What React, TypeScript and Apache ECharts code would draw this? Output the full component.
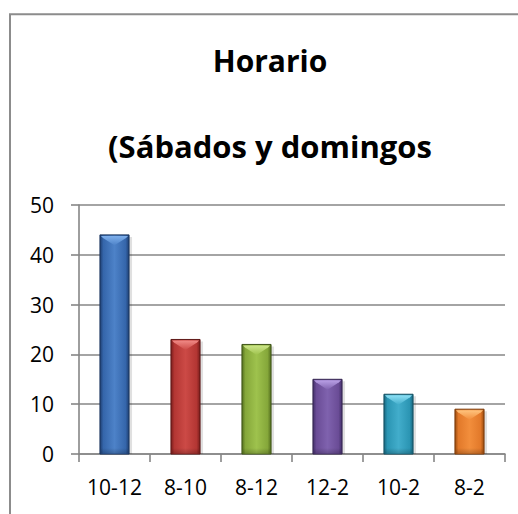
import React, { useEffect, useRef } from "react";
import * as echarts from "echarts";

const categories = ["10-12", "8-10", "8-12", "12-2", "10-2", "8-2"];
const values = [44, 23, 22, 15, 12, 9];
const yMin = 0;
const yMax = 50;
const yInterval = 10;
const titleLine1 = "Horario";
const titleLine2 = "(Sábados y domingos";

const palette = [
  { dark: "#1e3f73", base: "#3566ab", light: "#4d82c8", top: "#7fb0ec", edge: "#1b355e" },
  { dark: "#7a1d1c", base: "#b33633", light: "#cc4a46", top: "#f08a86", edge: "#5e1716" },
  { dark: "#55701f", base: "#85a73a", light: "#9ec24d", top: "#cde68a", edge: "#3f5418" },
  { dark: "#43306a", base: "#6a4c96", light: "#7f62ae", top: "#b9a0e6", edge: "#34254f" },
  { dark: "#19677f", base: "#2b95b3", light: "#42adcb", top: "#8ee0f5", edge: "#134f61" },
  { dark: "#9c4c0e", base: "#e2792a", light: "#f28e3c", top: "#ffc47e", edge: "#7a3a0a" },
];

const FONT = "'Open Sans', 'Liberation Sans', sans-serif";

export default function App() {
  const ref = useRef<HTMLDivElement>(null);
  useEffect(() => {
    if (!ref.current) return;
    const chart = echarts.init(ref.current, null, { renderer: "svg" });
    const option: any = {
      animation: false,
      backgroundColor: "#ffffff",
      title: [
        {
          text: titleLine1,
          left: 270,
          top: 41,
          textAlign: "center",
          padding: 0,
          textStyle: { fontFamily: FONT, fontWeight: "bold", fontSize: 30, color: "#000", lineHeight: 38 },
        },
        {
          text: titleLine2,
          left: 270,
          top: 127,
          textAlign: "center",
          padding: 0,
          textStyle: { fontFamily: FONT, fontWeight: "bold", fontSize: 31, color: "#000", lineHeight: 38 },
        },
      ],
      graphic: [
        {
          type: "rect",
          shape: { x: 10, y: 14.3, width: 700, height: 700 },
          style: { fill: "none", stroke: "#8c8c8c", lineWidth: 2 },
          silent: true,
          z: 100,
        },
      ],
      grid: { left: 79, right: 13, top: 205, bottom: 60, containLabel: false },
      xAxis: {
        type: "category",
        data: categories,
        boundaryGap: true,
        axisLine: { lineStyle: { color: "#868686", width: 1.6 } },
        axisTick: { show: true, interval: 0, length: 8, inside: false, alignWithLabel: false, lineStyle: { color: "#868686", width: 1.6 } },
        axisLabel: { interval: 0, hideOverlap: false, color: "#000", fontFamily: FONT, fontSize: 21, margin: 22 },
        splitLine: { show: false },
      },
      yAxis: {
        type: "value",
        min: yMin,
        max: yMax,
        interval: yInterval,
        axisLine: { show: true, lineStyle: { color: "#868686", width: 1.6 } },
        axisTick: { show: true, length: 8, inside: false, lineStyle: { color: "#868686", width: 1.6 } },
        axisLabel: { color: "#000", fontFamily: FONT, fontSize: 21, margin: 25 },
        splitLine: { show: true, lineStyle: { color: "#868686", width: 1.6 } },
      },
      series: [
        {
          type: "custom",
          encode: { x: 0, y: 1 },
          data: categories.map((c, i) => [i, values[i]]),
          renderItem: (params: any, api: any) => {
            const idx = api.value(0);
            const val = api.value(1);
            const topPt = api.coord([idx, val]);
            const basePt = api.coord([idx, 0]);
            const bw = api.size([1, 0])[0] * 0.41;
            const x = topPt[0] - bw / 2;
            const y = topPt[1];
            const h = basePt[1] - topPt[1];
            const c = palette[idx % palette.length];
            const bev = Math.min(bw * 0.36, h);
            const inset = 3;
            return {
              type: "group",
              children: [
                {
                  type: "rect",
                  shape: { x: x + 2, y: y + 2, width: bw + 1, height: h - 2 },
                  style: { fill: "rgba(0,0,0,0.12)" },
                },
                {
                  type: "rect",
                  shape: { x, y, width: bw, height: h },
                  style: {
                    fill: new echarts.graphic.LinearGradient(0, 0, 1, 0, [
                      { offset: 0, color: c.dark },
                      { offset: 0.12, color: c.base },
                      { offset: 0.5, color: c.light },
                      { offset: 0.88, color: c.base },
                      { offset: 1, color: c.dark },
                    ]),
                    stroke: c.edge,
                    lineWidth: 1,
                  },
                },
                {
                  type: "rect",
                  shape: { x: x + 1, y: basePt[1] - 6, width: bw - 2, height: 5 },
                  style: {
                    fill: new echarts.graphic.LinearGradient(0, 0, 0, 1, [
                      { offset: 0, color: "rgba(0,0,0,0)" },
                      { offset: 1, color: "rgba(0,0,0,0.18)" },
                    ]),
                  },
                },
                {
                  type: "polygon",
                  shape: {
                    points: [
                      [x + 1, y + 1],
                      [x + bw - 1, y + 1],
                      [x + bw - inset, y + inset],
                      [x + bw / 2, y + bev],
                      [x + inset, y + inset],
                    ],
                  },
                  style: {
                    fill: new echarts.graphic.LinearGradient(0, 0, 0, 1, [
                      { offset: 0, color: c.top },
                      { offset: 1, color: c.light },
                    ]),
                  },
                },
              ],
            };
          },
        },
      ],
    };
    chart.setOption(option);
    return () => chart.dispose();
  }, []);
  return (
    <div
      ref={ref}
      style={{ position: "fixed", left: 0, top: 0, width: 518, height: 514 }}
    />
  );
}
